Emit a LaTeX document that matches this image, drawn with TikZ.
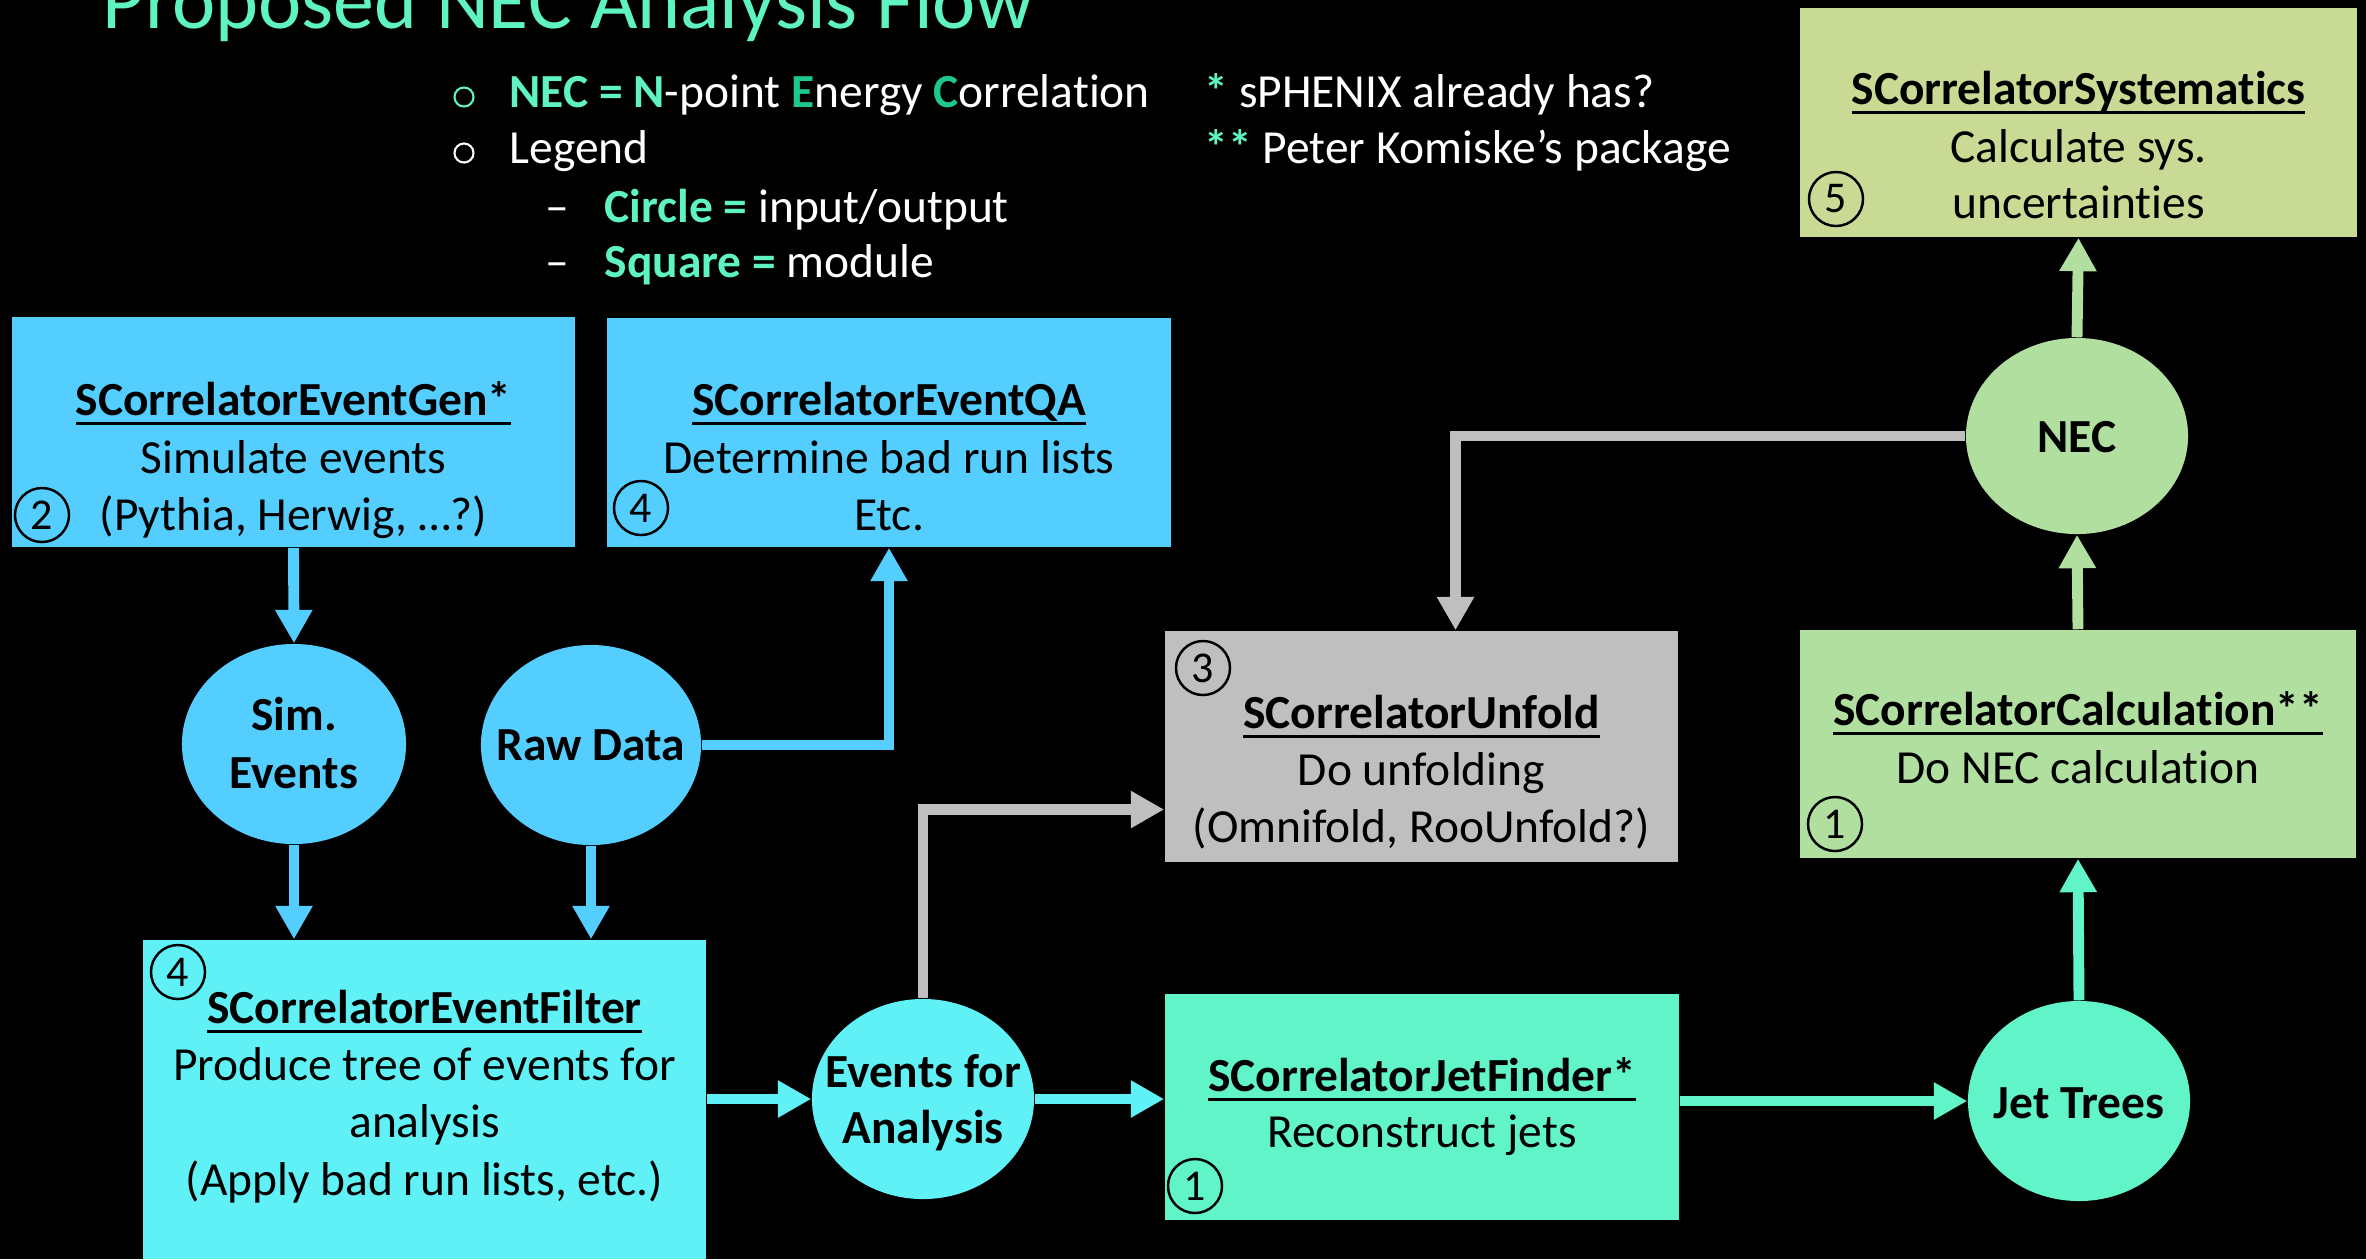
\documentclass[tikz,border=0pt]{standalone}
\usepackage{fontspec}
\setmainfont{Carlito}[Ligatures=NoCommon]
\usetikzlibrary{shapes.geometric,arrows.meta,calc}
\definecolor{cblue}{RGB}{84,206,255}
\definecolor{ccyan}{RGB}{96,241,246}
\definecolor{caqua}{RGB}{97,244,200}
\definecolor{cgray}{RGB}{191,191,191}
\definecolor{cgreen}{RGB}{176,223,160}
\definecolor{colive}{RGB}{201,218,148}
\definecolor{cteal}{RGB}{95,243,196}
\definecolor{cdkgreen}{RGB}{30,200,140}
\newcommand\myul[1]{\setbox0\hbox{#1}\rlap{\rule[-2.7pt]{\wd0}{0.8pt}}\box0}
\tikzset{
  box/.style={rectangle, draw=none, inner sep=0pt},
  ell/.style={ellipse, draw=none, inner sep=0pt},
  txt/.style={anchor=base, inner sep=0pt, font=\fontsize{13.5}{16}\selectfont},
  btxt/.style={anchor=base, inner sep=0pt, font=\fontsize{13.5}{16}\selectfont\bfseries},
  ltxt/.style={anchor=base west, inner sep=0pt, text=white, font=\fontsize{13.5}{16}\selectfont},
  num/.style={circle, draw=black, line width=0.7pt, minimum size=0.54cm, inner sep=0pt, font=\fontsize{12.5}{13}\selectfont},
  bul/.style={circle, line width=0.6pt, minimum size=0.19cm, inner sep=0pt},
  arr/.style={line width=3.1pt, -{Triangle[width=10pt,length=9.5pt]}},
}
\begin{document}
\begin{tikzpicture}[x=0.01cm,y=-0.01cm]
\fill[black] (0,0) rectangle (2366,1259);
\useasboundingbox (0,0) rectangle (2366,1259);

% title
\node[anchor=base west, inner sep=0pt, text=cteal, font=\fontsize{23.3}{26}\selectfont] (title) at (102,28) {Proposed NEC Analysis Flow};

% legend
\node[bul, draw=cteal] (b1) at (464,97) {};
\node[ltxt] (l1) at (509,107) {{\color{cteal}\bfseries NEC = N}-point {\color{cdkgreen}\bfseries E}nergy {\color{cdkgreen}\bfseries C}orrelation};
\node[bul, draw=white] (b2) at (464,153) {};
\node[ltxt] (l2) at (509,163) {Legend};
\node[ltxt] (d3) at (545,222) {–};
\node[ltxt] (l3) at (604,222) {{\color{cteal}\bfseries Circle =} input/output};
\node[ltxt] (d4) at (545,277) {–};
\node[ltxt] (l4) at (604,277) {{\color{cteal}\bfseries Square =} module};
\node[ltxt] (r1) at (1204,107) {{\color{cteal}\bfseries *} sPHENIX already has?};
\node[ltxt] (r2) at (1204,163) {{\color{cteal}\bfseries **} Peter Komiske’s package};

% boxes
\node[box, fill=cblue, minimum width=5.63cm, minimum height=2.30cm] (gen) at (293.5,432) {};
\node[box, fill=cblue, minimum width=5.64cm, minimum height=2.29cm] (qa) at (889,432.5) {};
\node[box, fill=ccyan, minimum width=5.63cm, minimum height=3.19cm] (filt) at (424.5,1099.5) {};
\node[box, fill=cgray, minimum width=5.13cm, minimum height=2.31cm] (unf) at (1421.5,746.5) {};
\node[box, fill=cgreen, minimum width=5.56cm, minimum height=2.28cm] (calc) at (2078,744) {};
\node[box, fill=caqua, minimum width=5.14cm, minimum height=2.26cm] (jf) at (1422,1107) {};
\node[box, fill=colive, minimum width=5.57cm, minimum height=2.29cm] (sys) at (2078.5,122.5) {};

% ellipses
\node[ell, fill=cblue, minimum width=2.24cm, minimum height=2.0cm] (sim) at (294,744) {};
\node[ell, fill=cblue, minimum width=2.20cm, minimum height=2.0cm] (raw) at (591,745) {};
\node[ell, fill=ccyan, minimum width=2.22cm, minimum height=2.0cm] (efa) at (923,1099) {};
\node[ell, fill=caqua, minimum width=2.22cm, minimum height=2.0cm] (jt) at (2079,1101) {};
\node[ell, fill=cgreen, minimum width=2.22cm, minimum height=1.96cm] (nec) at (2077,436) {};

% box texts
\node[btxt] (genA) at (293.5,415) {\myul{SCorrelatorEventGen*}};
\node[txt] (genB) at (293.5,473) {Simulate events};
\node[txt] (genC) at (293.5,530) {(Pythia, Herwig, …?)};
\node[num] (genN) at (42,515) {2};

\node[btxt] (qaA) at (889,415) {\myul{SCorrelatorEventQA}};
\node[txt] (qaB) at (889,473) {Determine bad run lists};
\node[txt] (qaC) at (889,530) {Etc.};
\node[num] (qaN) at (641,508) {4};

\node[btxt] (filtA) at (424.5,1023) {\myul{SCorrelatorEventFilter}};
\node[txt] (filtB) at (424.5,1080) {Produce tree of events for};
\node[txt] (filtC) at (424.5,1137) {analysis};
\node[txt] (filtD) at (424.5,1195) {(Apply bad run lists, etc.)};
\node[num] (filtN) at (178,972) {4};

\node[btxt] (unfA) at (1421.5,728) {\myul{SCorrelatorUnfold}};
\node[txt] (unfB) at (1421.5,785) {Do unfolding};
\node[txt] (unfC) at (1421.5,842) {(Omnifold, RooUnfold?)};
\node[num] (unfN) at (1203,668) {3};

\node[btxt] (calcA) at (2078,725) {\myul{SCorrelatorCalculation**}};
\node[txt] (calcB) at (2078,783) {Do NEC calculation};
\node[num] (calcN) at (1835,824) {1};

\node[btxt] (jfA) at (1422,1091) {\myul{SCorrelatorJetFinder*}};
\node[txt] (jfB) at (1422,1147) {Reconstruct jets};
\node[num] (jfN) at (1195,1186) {1};

\node[btxt] (sysA) at (2078.5,104) {\myul{SCorrelatorSystematics}};
\node[txt] (sysB) at (2078.5,162) {Calculate sys.};
\node[txt] (sysC) at (2078.5,218) {uncertainties};
\node[num] (sysN) at (1836,199) {5};

% ellipse texts
\node[btxt] (simA) at (294,730) {Sim.};
\node[btxt] (simB) at (294,788) {Events};
\node[btxt] (rawA) at (591,760) {Raw Data};
\node[btxt] (efaA) at (923,1087) {Events for};
\node[btxt] (efaB) at (923,1143) {Analysis};
\node[btxt] (jtA) at (2079,1118) {Jet Trees};
\node[btxt] (necA) at (2077,452) {NEC};

% connectors
\draw[arr, cblue] (gen.south) -- (sim.north);
\draw[arr, cblue] (sim.south) -- (sim.south |- filt.north);
\draw[arr, cblue] (raw.south) -- (raw.south |- filt.north);
\draw[arr, cblue] (raw.east) -| (qa.south);
\draw[arr, ccyan] (efa.west -| filt.east) -- (efa.west);
\draw[arr, ccyan] (efa.east) -- (efa.east -| jf.west);
\draw[arr, cgray] (efa.north) |- ($(unf.west)+(0,63)$);
\draw[arr, cgray] (nec.west) -| ($(unf.north)+(34,0)$);
\draw[arr, caqua] (jt.west -| jf.east) -- (jt.west);
\draw[arr, caqua] (jt.north) -- (calc.south);
\draw[arr, cgreen] (calc.north) -- (nec.south);
\draw[arr, cgreen] (nec.north) -- (sys.south);
\end{tikzpicture}
\end{document}
